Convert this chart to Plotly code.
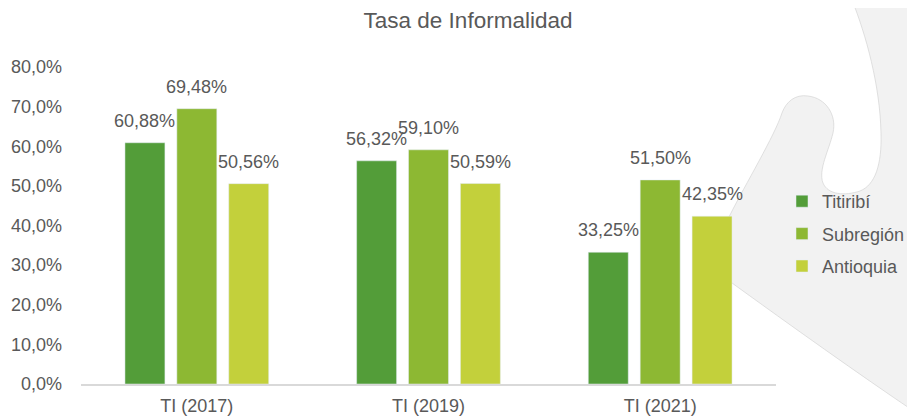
import plotly.graph_objects as go

categories = ["TI (2017)", "TI (2019)", "TI (2021)"]
series_names = ["Titiribí", "Subregión", "Antioquia"]
titiribi = [60.88, 56.32, 33.25]
subregion = [69.48, 59.10, 51.50]
antioquia = [50.56, 50.59, 42.35]
y_ticks = [0, 10, 20, 30, 40, 50, 60, 70, 80]
y_tick_labels = ["0,0%", "10,0%", "20,0%", "30,0%", "40,0%", "50,0%", "60,0%", "70,0%", "80,0%"]

colors = ["#539D39", "#8DB833", "#C3D03B"]
FONT = "Liberation Sans, Arial, sans-serif"
GREY = "#595959"

# The page body adds an 8px offset; the figure is sized to fill the rest of the window.
OFF = 8
W, H = 915 - OFF, 417 - OFF
PLOT_L, PLOT_R, PLOT_T, PLOT_B = 81 - OFF, 776 - OFF, 67 - OFF, 384 - OFF
ML, MR, MT, MB = PLOT_L, W - PLOT_R, PLOT_T, H - PLOT_B
PW, PH = PLOT_R - PLOT_L, PLOT_B - PLOT_T


def px(x, y):
    x, y = x - OFF, y - OFF
    return f"{(x - PLOT_L) / PW:.4f},{(PLOT_B - y) / PH:.4f}"


# decorative background shape (screen pixel coords converted to paper coords)
segs = [
    ("M", [(852, 0)]),
    ("C", [(866, 35), (880, 85), (881, 133)]),
    ("C", [(882, 165), (875, 185), (860, 191)]),
    ("C", [(845, 196), (828, 195), (823, 183)]),
    ("C", [(818, 170), (829, 150), (833, 133)]),
    ("C", [(837, 115), (826, 98), (808, 96)]),
    ("C", [(795, 94), (786, 102), (782, 113)]),
    ("C", [(775, 135), (745, 185), (730, 215)]),
    ("C", [(718, 235), (712, 262), (732, 283)]),
    ("C", [(790, 325), (860, 375), (915, 412)]),
    ("L", [(930, 420)]),
    ("L", [(930, -5)]),
]
path = " ".join(cmd + " " + " ".join(px(x, y) for x, y in pts) for cmd, pts in segs) + " Z"

fig = go.Figure()
all_vals = [titiribi, subregion, antioquia]
for name, vals, col in zip(series_names, all_vals, colors):
    fig.add_trace(go.Bar(
        x=categories, y=vals, name=name, marker_color=col,
        legendgroup=name, hoverinfo="skip",
    ))

offsets = [-52, 0, 52]
for vals, off in zip(all_vals, offsets):
    for c, v in zip(categories, vals):
        fig.add_annotation(
            x=c, y=v, xref="x", yref="y", text=f"{v:.2f}".replace(".", ",") + "%",
            showarrow=False, xshift=off, yanchor="bottom", yshift=10,
            font=dict(family=FONT, size=18, color=GREY),
        )

fig.add_shape(type="path", path=path, xref="paper", yref="paper",
              fillcolor="#F2F2F2", line=dict(color="#D4D4D4", width=0.7),
              layer="below")

fig.update_layout(
    width=W, height=H,
    margin=dict(l=ML, r=MR, t=MT, b=MB, pad=0, autoexpand=False),
    paper_bgcolor="white", plot_bgcolor="rgba(0,0,0,0)",
    separators=",.",
    barmode="group", bargap=0.328, bargroupgap=0.23,
    title=dict(text="Tasa de Informalidad", x=460 / W, xanchor="center",
               y=1 - 12 / H, yanchor="middle", yref="container",
               font=dict(family=FONT, size=22.5, color=GREY)),
    font=dict(family=FONT, size=18, color=GREY),
    showlegend=True,
    legend=dict(xref="container", yref="container",
                x=(822 - OFF - 40) / W, xanchor="left", y=1 - (234 - OFF) / H, yanchor="middle",
                bgcolor="rgba(0,0,0,0)", tracegroupgap=6,
                font=dict(family=FONT, size=18, color=GREY)),
    xaxis=dict(showgrid=False, showline=True, linecolor="#D9D9D9", linewidth=2,
               ticks="", tickfont=dict(family=FONT, size=18, color=GREY),
               ticklabelstandoff=4, automargin=False),
    yaxis=dict(range=[0, 80], tickvals=y_ticks, ticktext=y_tick_labels,
               showgrid=False, zeroline=False, showline=False, ticks="",
               tickfont=dict(family=FONT, size=18, color=GREY),
               ticklabelstandoff=18, automargin=False),
)

fig.write_html("out.html")
